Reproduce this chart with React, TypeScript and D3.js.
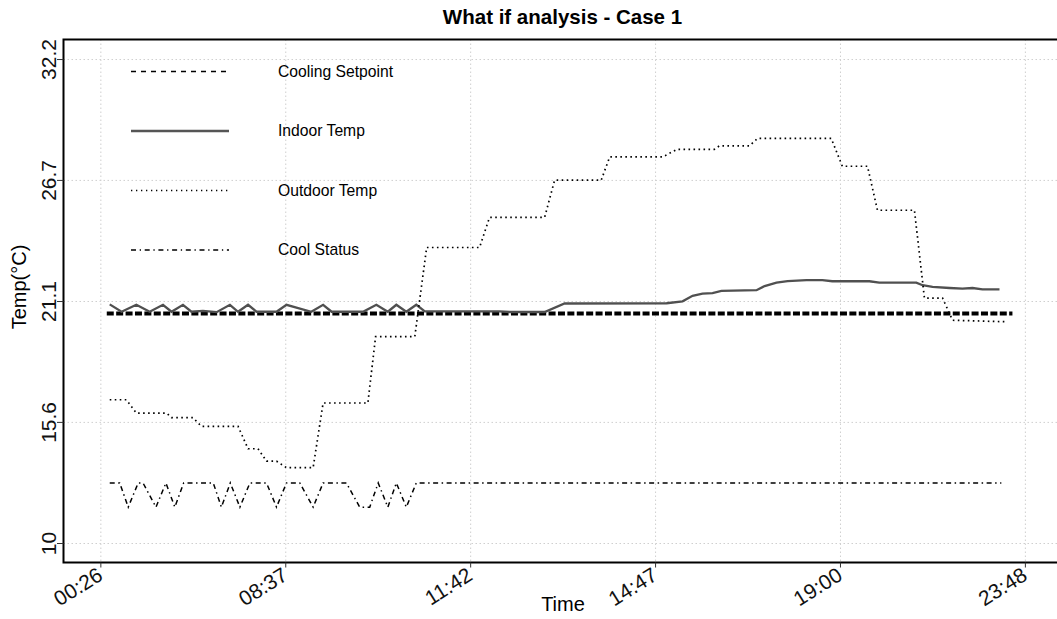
import * as d3 from 'd3';

const WIDTH = 1057;
const HEIGHT = 619;
const PANEL = { left: 63.5, top: 39.5, bottom: 562.5, right: 1070 };

// x = observation index, labelled with clock times
const xTickIdx = [0, 50, 100, 150, 200, 250];
const xTickLabels = ['00:26', '08:37', '11:42', '14:47', '19:00', '23:48'];

// y ticks are 50..90 F shown in C
const yTickVals = [10, 15.56, 21.11, 26.67, 32.22];
const yTickLabels = ['10', '15.6', '21.1', '26.7', '32.2'];

type Pt = [number, number];

const setpoint: Pt[] = [
  [1.6, 20.56],
  [246.5, 20.56],
];

const indoorTemp: Pt[] = [
  [2.4, 20.98], [5.6, 20.64], [9.6, 20.96], [13.2, 20.64], [16.8, 20.96],
  [19.1, 20.64], [22.2, 20.96], [24.5, 20.64], [27.6, 20.68], [31.3, 20.62],
  [34.9, 20.96], [37.1, 20.64], [39.8, 20.96], [42.1, 20.64], [47.5, 20.64],
  [50.2, 20.96], [56.9, 20.64], [60.1, 20.96], [62.4, 20.64], [70.9, 20.64],
  [74.5, 20.96], [77.6, 20.64], [79.9, 20.96], [82.6, 20.64], [85.3, 20.96],
  [87.6, 20.66], [107.8, 20.66], [110.5, 20.63], [120, 20.63], [125.4, 21.02],
  [153, 21.03], [157.3, 21.12], [160, 21.37], [162.7, 21.47], [165.4, 21.5],
  [167.8, 21.6], [177.3, 21.63], [179.5, 21.82], [182.7, 21.98], [185.7, 22.05],
  [190.8, 22.09], [195.1, 22.09], [197.8, 22.04], [207.8, 22.04], [210.5, 21.98],
  [220.5, 21.98], [222.2, 21.86], [224.9, 21.78], [229.5, 21.73], [233, 21.7],
  [235.7, 21.73], [238.4, 21.67], [243, 21.67],
];

const outdoorTemp: Pt[] = [
  [2.4, 16.6], [6.9, 16.6], [9.6, 15.99], [17.8, 15.99], [19.1, 15.78],
  [24.9, 15.78], [27.2, 15.38], [37.1, 15.38], [39.8, 14.35], [42.5, 14.35],
  [44.8, 13.78], [47.5, 13.78], [50.2, 13.48], [57.4, 13.48], [60.1, 16.45],
  [72.2, 16.45], [74.3, 19.5], [84.9, 19.5], [88.1, 23.59], [102.4, 23.59],
  [105.1, 24.97], [120, 24.97], [122.7, 26.68], [135.3, 26.68], [137.6, 27.75],
  [151.9, 27.75], [155.9, 28.1], [165.9, 28.1], [167.3, 28.26], [175.4, 28.26],
  [177.6, 28.6], [197.5, 28.6], [200.5, 27.32], [207.3, 27.32], [210, 25.3],
  [220, 25.3], [222.7, 21.27], [227.6, 21.27], [230.3, 20.25], [245.1, 20.18],
];

// cool status: on = 55 F (12.78 C), off = 53 F (11.67 C)
const coolStatus: Pt[] = [
  [2.4, 12.78], [5.1, 12.78], [7.4, 11.67], [10.1, 12.78], [11.4, 12.78],
  [14.9, 11.67], [17.6, 12.78], [20, 11.67], [22.4, 12.78], [30.4, 12.78],
  [32.6, 11.67], [35, 12.78], [37.6, 11.67], [40.3, 12.78], [44.8, 12.78],
  [47.5, 11.67], [50.2, 12.78], [53.8, 12.78], [57.4, 11.67], [60.1, 12.78],
  [66.4, 12.78], [70, 11.67], [72.7, 11.67], [75, 12.78], [77.6, 11.67],
  [79.9, 12.78], [82.6, 11.67], [85.3, 12.78], [243.5, 12.78],
];

const legendNames = ['Cooling Setpoint', 'Indoor Temp', 'Outdoor Temp', 'Cool Status'];

const FONT = '"Liberation Sans", Arial, sans-serif';

export default function App() {
  const xScale = d3.scaleLinear().domain([-10.1, 262.2]).range([63.5, 1070.5]);
  const yScale = d3.scaleLinear().domain([9.128, 33.14]).range([PANEL.bottom, PANEL.top]);

  const line = d3
    .line<Pt>()
    .x((d) => xScale(d[0]))
    .y((d) => yScale(d[1]));

  // styles shared by plot lines and legend keys
  const series = [
    { data: setpoint, stroke: '#000', width: 4, dash: '7 2.4', key: { width: 1.3, dash: '5 5', stroke: '#000' } },
    { data: indoorTemp, stroke: '#505050', width: 2.3, dash: undefined, key: { width: 2.6, dash: undefined, stroke: '#555' } },
    { data: outdoorTemp, stroke: '#000', width: 1.7, dash: '1.6 3.4', key: { width: 1.3, dash: '1.3 3.7', stroke: '#000' } },
    { data: coolStatus, stroke: '#000', width: 1.5, dash: '5 3.5 1.5 3.5', key: { width: 1.3, dash: '5 3.7 1.3 3.7', stroke: '#000' } },
  ];

  return (
    <svg
      width={WIDTH}
      height={HEIGHT}
      style={{ position: 'absolute', left: 0, top: 0, background: '#fff' }}
      fontFamily={FONT}
    >
      <defs>
        <clipPath id="panel">
          <rect x={PANEL.left} y={PANEL.top} width={PANEL.right - PANEL.left} height={PANEL.bottom - PANEL.top} />
        </clipPath>
      </defs>

      {/* grid */}
      {yTickVals.map((v) => (
        <line key={'gy' + v} x1={PANEL.left} x2={PANEL.right} y1={yScale(v)} y2={yScale(v)}
          stroke="#cfcfcf" strokeWidth={1} strokeDasharray="1.5 2.5" />
      ))}
      {xTickIdx.map((v) => (
        <line key={'gx' + v} x1={xScale(v)} x2={xScale(v)} y1={PANEL.top} y2={PANEL.bottom}
          stroke="#cfcfcf" strokeWidth={1} strokeDasharray="1.5 2.5" />
      ))}

      {/* series */}
      <g clipPath="url(#panel)">
        {series.map((s, i) => (
          <path key={i} d={line(s.data) || ''} fill="none" stroke={s.stroke}
            strokeWidth={s.width} strokeDasharray={s.dash} />
        ))}
      </g>

      {/* legend */}
      {legendNames.map((name, i) => {
        const y = 71.5 + i * 59.5;
        const k = series[i].key;
        return (
          <g key={name}>
            <line x1={131} x2={229} y1={y} y2={y} stroke={k.stroke} strokeWidth={k.width} strokeDasharray={k.dash} />
            <text x={278} y={y} dy="0.35em" fontSize={15.7} fill="#000">{name}</text>
          </g>
        );
      })}

      {/* panel border: top, left, bottom */}
      <path d={`M${PANEL.right},${PANEL.top}H${PANEL.left}V${PANEL.bottom}H${PANEL.right}`}
        fill="none" stroke="#000" strokeWidth={2} />

      {/* y axis */}
      {yTickVals.map((v, i) => (
        <g key={'yt' + v}>
          <line x1={57} x2={PANEL.left} y1={yScale(v)} y2={yScale(v)} stroke="#333" strokeWidth={1} />
          <text transform={`translate(56,${yScale(v)}) rotate(-90)`} textAnchor="middle" fontSize={21} fill="#111">
            {yTickLabels[i]}
          </text>
        </g>
      ))}
      <text transform={`translate(26,287) rotate(-90)`} textAnchor="middle" fontSize={20} fill="#000">
        Temp(°C)
      </text>

      {/* x axis */}
      {xTickIdx.map((v, i) => (
        <g key={'xt' + v}>
          <line x1={xScale(v)} x2={xScale(v)} y1={PANEL.bottom} y2={PANEL.bottom + 5} stroke="#333" strokeWidth={1} />
          <text transform={`translate(${xScale(v) - 5},${PANEL.bottom + 3}) rotate(-32)`} textAnchor="end"
            dy="0.75em" fontSize={21} fill="#111">
            {xTickLabels[i]}
          </text>
        </g>
      ))}
      <text x={563} y={611} textAnchor="middle" fontSize={20} fill="#000">Time</text>

      <text x={562.5} y={24} textAnchor="middle" fontSize={20.5} fontWeight="bold" fill="#000">
        What if analysis - Case 1
      </text>
    </svg>
  );
}
